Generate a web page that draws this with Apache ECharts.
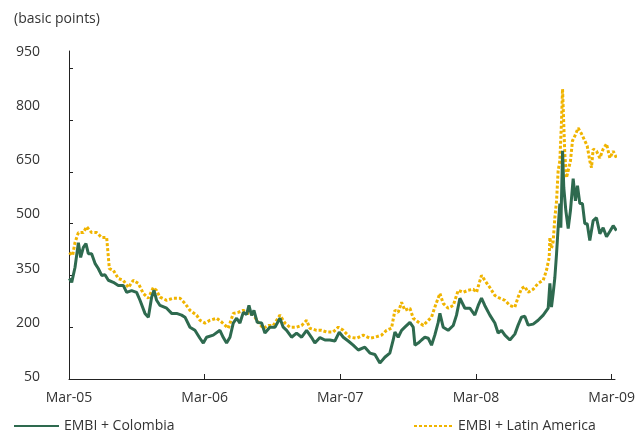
<!DOCTYPE html>
<html>
<head>
<meta charset="utf-8">
<script src="https://cdn.jsdelivr.net/npm/echarts@6/dist/echarts.min.js"></script>
<style>
  html, body { margin: 0; padding: 0; background: #fff; }
  #chart { width: 638px; height: 435px; }
</style>
</head>
<body>
<div id="chart"></div>
<script>
// months counted from Mar-05
const xTickLabels = ['Mar-05', 'Mar-06', 'Mar-07', 'Mar-08', 'Mar-09']
const yTickValues = [50, 200, 350, 500, 650, 800, 950]

const colombiaMonths = [
  0.03, 0.24, 0.53, 0.83, 1.03, 1.27, 1.50, 1.71, 2.00, 2.30, 2.59, 2.89, 3.18, 3.48, 3.92, 4.36,
  4.80, 5.10, 5.54, 5.98, 6.28, 6.72, 7.02, 7.31, 7.52, 7.75, 8.05, 8.64, 9.08, 9.52, 9.96, 10.26,
  10.70, 11.14, 11.58, 11.88, 12.17, 12.76, 13.35, 13.65, 13.94, 14.24, 14.53, 14.83, 15.12, 15.42,
  15.71, 15.92, 16.15, 16.36, 16.65, 17.04, 17.33, 17.77, 18.22, 18.66, 18.95, 19.25, 19.69, 20.13,
  20.58, 21.02, 21.46, 21.75, 22.20, 22.64, 23.08, 23.52, 23.91, 24.26, 24.70, 25.14, 25.59, 26.17,
  26.62, 27.06, 27.50, 27.94, 28.38, 28.68, 28.83, 29.12, 29.42, 29.71, 30.16, 30.45, 30.60, 30.89,
  31.19, 31.48, 31.78, 32.07, 32.36, 32.66, 32.81, 33.10, 33.54, 33.99, 34.28, 34.58, 35.02, 35.46,
  35.90, 36.20, 36.49, 36.78, 37.23, 37.67, 37.96, 38.26, 38.56, 39.00, 39.44, 39.73, 40.03, 40.32,
  40.62, 41.06, 41.50, 41.95, 42.39, 42.54, 42.68, 42.83, 42.98, 43.13, 43.27, 43.42, 43.51, 43.66,
  43.77, 43.95, 44.16, 44.36, 44.60, 44.80, 44.98, 45.19, 45.42, 45.63, 45.84, 46.07, 46.37, 46.66,
  46.96, 47.25, 47.55, 47.84, 48.14, 48.43
]
const colombiaBps = [
  341, 330, 373, 445, 402, 431, 442, 413, 413, 385, 370, 350, 352, 336, 330, 321,
  321, 301, 306, 301, 278, 240, 229, 287, 307, 278, 263, 255, 240, 240, 235, 229,
  200, 191, 168, 154, 171, 177, 191, 170, 154, 171, 212, 226, 212, 243,
  237, 263, 234, 249, 214, 212, 183, 200, 200, 226, 200, 191, 171, 183,
  171, 191, 170, 154, 170, 163, 163, 160, 186, 171, 160, 148, 134, 142,
  125, 121, 96, 113, 125, 163, 186, 171, 191, 200, 214, 200, 148, 154,
  163, 171, 168, 148, 177, 214, 240, 200, 191, 205, 235, 284, 255, 255,
  235, 263, 284, 263, 235, 212, 183, 191, 177, 163, 180, 206, 229, 232,
  206, 209, 220, 235, 255, 327, 258, 298, 344, 413, 488, 558, 488, 711,
  604, 538, 486, 538, 630, 566, 610, 558, 558, 500, 500, 451, 509, 517,
  471, 488, 462, 477, 494, 480
]

const latamMonths = [
  0.03, 0.32, 0.53, 0.83, 1.27, 1.56, 2.00, 2.45, 2.89, 3.33, 3.45, 3.57, 3.92, 4.36, 4.80, 5.25,
  5.69, 6.13, 6.57, 7.02, 7.46, 7.75, 8.05, 8.64, 9.23, 9.82, 10.26, 10.70, 11.29, 11.58, 12.03, 12.47,
  13.06, 13.50, 14.09, 14.53, 14.97, 15.42, 15.86, 16.30, 16.74, 17.18, 17.63, 18.07, 18.66, 19.10,
  19.54, 20.13, 20.58, 21.02, 21.31, 21.90, 22.34, 22.79, 23.37, 23.82, 24.26, 24.85, 25.44, 26.03,
  26.62, 27.06, 27.65, 28.09, 28.53, 28.83, 29.12, 29.42, 29.71, 30.16, 30.45, 30.89, 31.34, 31.78,
  32.07, 32.36, 32.81, 33.10, 33.54, 33.99, 34.43, 34.87, 35.31, 35.76, 36.05, 36.49, 36.78, 37.23,
  37.67, 38.11, 38.56, 39.00, 39.44, 39.73, 40.03, 40.32, 40.62, 41.06, 41.50, 41.95, 42.24, 42.48,
  42.54, 42.68, 42.83, 42.98, 43.13, 43.27, 43.42, 43.57, 43.66, 43.86, 44.01, 44.22, 44.36, 44.54,
  44.75, 45.04, 45.34, 45.63, 45.84, 46.07, 46.22, 46.37, 46.66, 46.96, 47.25, 47.55, 47.84, 48.14,
  48.43
]
const latamBps = [
  416, 408, 445, 474, 474, 491, 474, 474, 460, 460, 460, 370, 365, 341, 336, 315,
  336, 327, 298, 284, 315, 306, 287, 278, 284, 284, 269, 249, 235, 220, 212, 220,
  226, 215, 197, 240, 243, 249, 240, 237, 214, 197, 205, 205, 235, 212,
  200, 200, 205, 220, 197, 191, 191, 186, 186, 200, 191, 171, 168, 177,
  168, 171, 177, 191, 197, 249, 243, 272, 249, 255, 226, 215, 205, 220,
  229, 258, 298, 269, 255, 263, 307, 301, 307, 310, 301, 350, 336, 315,
  292, 284, 278, 263, 258, 287, 312, 318, 301, 310, 327, 336, 365, 402,
  460, 428, 448, 517, 566, 653, 682, 797, 890, 702, 633, 662, 682, 740,
  754, 777, 760, 740, 725, 682, 662, 716, 710, 690, 716, 731, 690, 710,
  690
]

const colombiaData = colombiaMonths.map((m, i) => [m, colombiaBps[i]])
const latamData = latamMonths.map((m, i) => [m, latamBps[i]])

const textColor = '#333'
const fontFamily = "'Open Sans', sans-serif"

const chart = echarts.init(document.getElementById('chart'))
const option = {
  animation: false,
  title: {
    text: '(basic points)',
    left: 9,
    top: 7,
    textStyle: { fontSize: 14, fontWeight: 'normal', color: textColor, fontFamily: fontFamily }
  },
  legend: [
    {
      data: ['EMBI + Colombia'],
      left: 8,
      top: 414,
      itemWidth: 45,
      itemHeight: 10,
      itemStyle: { opacity: 0 },
      textStyle: { fontSize: 14, color: textColor, fontFamily: fontFamily }
    },
    {
      data: ['EMBI + Latin America'],
      left: 408,
      top: 414,
      itemWidth: 39,
      itemHeight: 10,
      itemStyle: { opacity: 0 },
      textStyle: { fontSize: 14, color: textColor, fontFamily: fontFamily }
    }
  ],
  grid: { left: 69, right: 23, top: 51, bottom: 56 },
  xAxis: {
    type: 'value',
    min: 0,
    max: 48.3,
    interval: 12,
    splitLine: { show: false },
    axisLine: { lineStyle: { color: '#222', width: 1 } },
    axisTick: {
      inside: true,
      length: 5,
      customValues: [0, 12, 24, 36, 48],
      lineStyle: { color: '#222' }
    },
    axisLabel: {
      customValues: [0, 12, 24, 36, 48],
      margin: 12,
      fontSize: 14,
      color: textColor,
      fontFamily: fontFamily,
      formatter: v => xTickLabels[Math.round(v / 12)]
    }
  },
  yAxis: [
    {
      // ticks on the value scale
      type: 'value',
      position: 'left',
      min: 50,
      max: 1000,
      interval: 150,
      splitLine: { show: false },
      axisLine: { show: true, lineStyle: { color: '#222', width: 1 } },
      axisTick: {
        show: true,
        inside: true,
        length: 4,
        customValues: yTickValues,
        lineStyle: { color: '#222' }
      },
      axisLabel: { show: false }
    },
    {
      // labels as printed in the source (slightly stretched against the ticks)
      type: 'value',
      position: 'left',
      min: 44.5,
      max: 952.75,
      splitLine: { show: false },
      axisLine: { show: false },
      axisTick: { show: false },
      axisLabel: {
        customValues: yTickValues,
        margin: 29,
        fontSize: 14,
        color: textColor,
        fontFamily: fontFamily
      }
    }
  ],
  series: [
    {
      name: 'EMBI + Latin America',
      type: 'line',
      symbol: 'none',
      data: latamData,
      itemStyle: { color: '#f0b400' },
      lineStyle: { color: '#f0b400', width: 3, type: [3, 2] }
    },
    {
      name: 'EMBI + Colombia',
      type: 'line',
      symbol: 'none',
      data: colombiaData,
      itemStyle: { color: '#2e6a4f' },
      lineStyle: { color: '#2e6a4f', width: 3 }
    }
  ]
}
chart.setOption(option)
</script>
</body>
</html>
